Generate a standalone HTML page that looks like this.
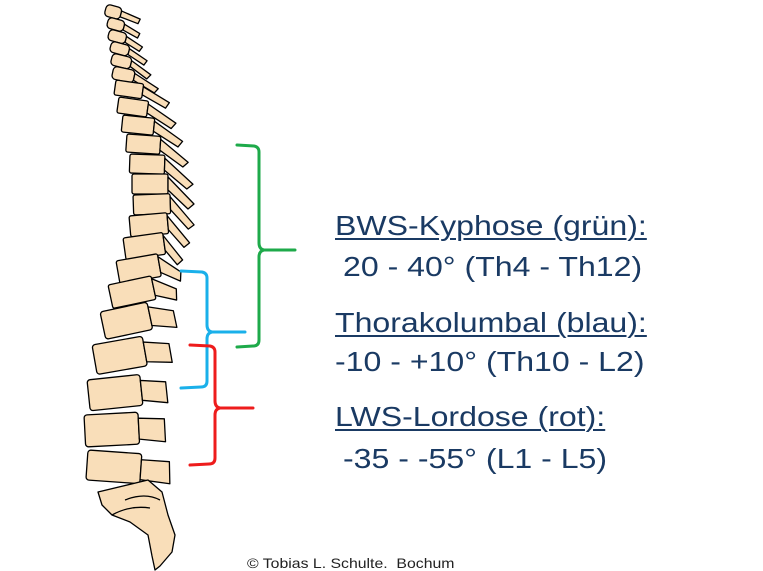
<!DOCTYPE html>
<html><head><meta charset="utf-8"><style>
html,body{margin:0;padding:0;background:#fff;}
#c{position:relative;width:763px;height:571px;overflow:hidden;font-family:"Liberation Sans",sans-serif;}
.t{position:absolute;color:#1a3a63;font-size:28px;white-space:nowrap;line-height:1;transform:scaleX(1.145);transform-origin:0 0;}
.u{text-decoration:underline;text-decoration-thickness:2px;text-underline-offset:3px;}
</style></head><body><div id="c">
<svg width="763" height="571" style="position:absolute;left:0;top:0">
<g fill="#f9deb9" stroke="#000" stroke-width="1.3" stroke-linejoin="round">
<g transform="translate(107,4) rotate(15)"><rect width="16" height="12" rx="4"/><path d="M16 3 L36 6 L35 11 L16 9Z"/></g>
<g transform="translate(109,17) rotate(15)"><rect width="17" height="11" rx="4"/><path d="M17 3 L34 8 L33 13 L17 9Z"/></g>
<g transform="translate(110,29) rotate(15)"><rect width="18" height="11" rx="4"/><path d="M18 3 L36 9 L34 14 L18 9Z"/></g>
<g transform="translate(112,41) rotate(15)"><rect width="19" height="11" rx="4"/><path d="M19 3 L39 10 L37 15 L19 9Z"/></g>
<g transform="translate(113,53) rotate(14)"><rect width="20" height="12" rx="4"/><path d="M20 3 L42 12 L39 17 L20 9Z"/></g>
<g transform="translate(114,66) rotate(12)"><rect width="22" height="13" rx="4"/><path d="M22 3 L48 13 L45 18 L22 10Z"/></g>
<g transform="translate(116,80) rotate(8)"><rect width="28" height="15" rx="2"/><path d="M28 3 L56 15 L53 21 L28 11Z"/></g>
<g transform="translate(119,97) rotate(8)"><rect width="30" height="16" rx="2"/><path d="M30 3 L60 18 L56 24 L30 12Z"/></g>
<g transform="translate(123,115) rotate(6)"><rect width="32" height="17" rx="2"/><path d="M32 3 L62 20 L58 26 L32 13Z"/></g>
<g transform="translate(127,134) rotate(4)"><rect width="34" height="18" rx="2"/><path d="M34 3 L63 24 L58 29 L34 14Z"/></g>
<g transform="translate(130,154) rotate(2)"><rect width="35" height="19" rx="2"/><path d="M35 3 L64 28 L58 33 L35 15Z"/></g>
<g transform="translate(132,174) rotate(0)"><rect width="36" height="20" rx="2"/><path d="M36 3 L62 30 L56 35 L36 16Z"/></g>
<g transform="translate(133,195) rotate(-2)"><rect width="37" height="20" rx="2"/><path d="M37 3 L60 32 L54 36 L37 16Z"/></g>
<g transform="translate(129,216) rotate(-5)"><rect width="38" height="21" rx="2"/><path d="M38 3 L58 32 L52 36 L38 17Z"/></g>
<g transform="translate(123,238) rotate(-8)"><rect width="40" height="22" rx="2"/><path d="M40 3 L56 30 L50 34 L40 18Z"/></g>
<g transform="translate(116,261) rotate(-10)"><rect width="42" height="23" rx="2"/><path d="M42 3 L62 22 L60 31 L42 19Z"/></g>
<g transform="translate(108,285) rotate(-12)"><rect width="44" height="24" rx="2"/><path d="M44 3 L66 18 L64 29 L44 20Z"/></g>
<g transform="translate(100,312) rotate(-12)"><rect width="48" height="28" rx="3"/><path d="M48 5 L72 14 L72 31 L48 24Z"/></g>
<g transform="translate(92,345) rotate(-10)"><rect width="51" height="30" rx="3"/><path d="M51 6 L76 12 L76 31 L51 26Z"/></g>
<g transform="translate(87,380) rotate(-6)"><rect width="53" height="31" rx="3"/><path d="M53 6 L78 10 L78 31 L53 26Z"/></g>
<g transform="translate(84,415) rotate(-3)"><rect width="54" height="32" rx="3"/><path d="M54 6 L80 8 L80 31 L54 27Z"/></g>
<g transform="translate(88,450) rotate(4)"><rect width="54" height="30" rx="3"/><path d="M54 6 L82 6 L84 28 L54 26Z"/></g>
<path d="M98 492 L148 480 L162 492 L168 515 L175 535 L172 552 L160 566 L155 570 L152 556 L148 535 L130 522 L112 515 L102 505Z"/>
<path d="M112 515 Q130 505 150 508 M125 500 Q145 492 160 500" fill="none"/>
</g>
<g fill="none" stroke-width="3" stroke-linecap="round" stroke-linejoin="round">
<path d="M237 145 L254 146 Q259 147 259 152 L259 243 Q259 249 264 250 L295 250 M264 250 Q259 251 259 257 L259 340 Q259 346 253 346 L237 347" stroke="#1eaa4a"/>
<path d="M181 271 L202 272 Q207 273 207 278 L207 325 Q207 331 212 332 L245 332 M212 332 Q207 333 207 339 L207 381 Q207 387 201 387 L181 388" stroke="#1ab0ea"/>
<path d="M190 345 L210 346 Q215 347 215 352 L215 401 Q215 407 220 408 L253 408 M220 408 Q215 409 215 415 L215 458 Q215 464 209 464 L190 465" stroke="#ee1c1c"/>
</g>
</svg>
<div class="t u" style="left:335px;top:212px">BWS-Kyphose (grün):</div>
<div class="t" style="left:343px;top:253px">20 - 40° (Th4 - Th12)</div>
<div class="t u" style="left:335px;top:309px">Thorakolumbal (blau):</div>
<div class="t" style="left:335px;top:348px">-10 - +10° (Th10 - L2)</div>
<div class="t u" style="left:335px;top:403px">LWS-Lordose (rot):</div>
<div class="t" style="left:343px;top:445px">-35 - -55° (L1 - L5)</div>
<div class="t" style="left:247px;top:556px;font-size:14px;color:#222;transform:scaleX(1.13)">© Tobias L. Schulte.&nbsp; Bochum</div>
</div></body></html>
